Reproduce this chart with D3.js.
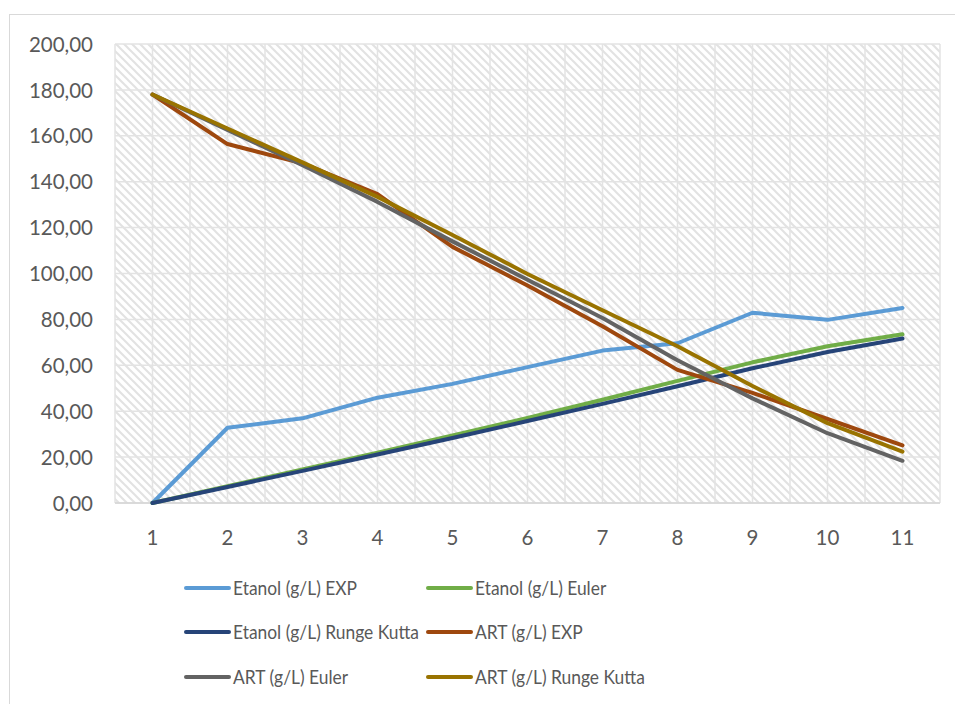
<!DOCTYPE html>
<html>
<head>
<meta charset="utf-8">
<script src="https://cdn.jsdelivr.net/npm/d3@7"></script>
<style>
  html, body { margin: 0; padding: 0; background: #fff; }
  svg { display: block; font-family: Lato, "Open Sans", sans-serif; }
</style>
</head>
<body>
<svg id="chart" width="955" height="704"></svg>
<script>
// Time points (x categories)
const categories = [1, 2, 3, 4, 5, 6, 7, 8, 9, 10, 11];

// Series values (g/L)
const etanolExp   = [0, 32.8, 36.9, 45.9, 51.9, 59.2, 66.4, 69.6, 82.9, 79.8, 85.0];
const etanolEuler = [0, 7.3, 14.6, 21.9, 29.4, 37.1, 45.0, 53.2, 61.3, 68.3, 73.5];
const etanolRK    = [0, 7.0, 14.0, 21.1, 28.3, 35.7, 43.2, 50.9, 58.7, 65.8, 71.7];
const artExp      = [178, 156.4, 148.0, 134.6, 111.6, 94.8, 77.0, 58.0, 48.0, 36.6, 25.1];
const artEuler    = [178, 162.6, 147.2, 131.2, 114.0, 97.3, 80.6, 62.2, 45.6, 30.4, 18.4];
const artRK       = [178, 163.2, 148.4, 133.4, 116.8, 99.8, 84.0, 68.3, 51.0, 34.8, 22.4];

const seriesNames  = ["Etanol (g/L) EXP", "Etanol (g/L) Euler", "Etanol (g/L) Runge Kutta",
                      "ART (g/L) EXP", "ART (g/L) Euler", "ART (g/L) Runge Kutta"];
const seriesValues = [etanolExp, etanolEuler, etanolRK, artExp, artEuler, artRK];
const seriesColors = ["#5B9BD5", "#70AD47", "#264478", "#9E480E", "#636363", "#997300"];

// Y axis ticks
const yTicks = [0, 20, 40, 60, 80, 100, 120, 140, 160, 180, 200];

const svg = d3.select("#chart");
const plot = { left: 115, right: 940, top: 44, bottom: 503 };

// Outer chart border
svg.append("rect")
  .attr("x", 9.5).attr("y", 14.5)
  .attr("width", 1000).attr("height", 1000)
  .attr("fill", "none").attr("stroke", "#d9d9d9").attr("stroke-width", 1);

// Diagonal hatch fill for the plot area
const defs = svg.append("defs");
const pat = defs.append("pattern")
  .attr("id", "hatch").attr("patternUnits", "userSpaceOnUse")
  .attr("width", 8).attr("height", 8);
pat.append("rect").attr("width", 8).attr("height", 8).attr("fill", "#ffffff");
pat.append("path")
  .attr("d", "M-1,-1 L9,9 M-3,5 L3,11 M5,-3 L11,3")
  .attr("stroke", "#e2e2e2").attr("stroke-width", 2);

const x = d3.scaleBand()
  .domain(categories)
  .range([plot.left, plot.right])
  .paddingInner(0).paddingOuter(0);
const xc = d => x(d) + x.bandwidth() / 2;

const y = d3.scaleLinear().domain([0, 200]).range([plot.bottom, plot.top]);

svg.append("rect")
  .attr("x", plot.left).attr("y", plot.top)
  .attr("width", plot.right - plot.left).attr("height", plot.bottom - plot.top)
  .attr("fill", "url(#hatch)");

// Vertical gridlines at band edges and centres
const vLines = [];
categories.forEach(c => { vLines.push(x(c)); vLines.push(xc(c)); });
vLines.push(plot.right);
svg.append("g").selectAll("line").data(vLines).join("line")
  .attr("x1", d => d).attr("x2", d => d)
  .attr("y1", plot.top).attr("y2", plot.bottom)
  .attr("stroke", "#e3e3e3").attr("stroke-width", 1.5);

// Horizontal gridlines
svg.append("g").selectAll("line").data(yTicks).join("line")
  .attr("x1", plot.left).attr("x2", plot.right)
  .attr("y1", d => y(d)).attr("y2", d => y(d))
  .attr("stroke", "#e3e3e3").attr("stroke-width", 1.5);

// Bottom axis line
svg.append("line")
  .attr("x1", plot.left).attr("x2", plot.right)
  .attr("y1", plot.bottom).attr("y2", plot.bottom)
  .attr("stroke", "#d4d4d4").attr("stroke-width", 1.5);

// Y axis labels
const fmt = v => v.toFixed(2).replace(".", ",");
const yAxis = d3.axisLeft(y).tickValues(yTicks).tickFormat(fmt).tickSize(0).tickPadding(0);
const gy = svg.append("g").attr("transform", `translate(93,0)`).call(yAxis);
gy.select(".domain").remove();
gy.selectAll("text")
  .attr("font-family", "Lato, sans-serif").attr("font-size", 20.5)
  .attr("fill", "#595959").attr("dy", "0.35em");

// X axis labels
const xAxis = d3.axisBottom(x).tickSize(0).tickPadding(0);
const gx = svg.append("g").attr("transform", `translate(0,${plot.bottom})`).call(xAxis);
gx.select(".domain").remove();
gx.selectAll("text")
  .attr("font-family", "Lato, sans-serif").attr("font-size", 20.5)
  .attr("fill", "#595959").attr("dy", null).attr("y", 42);

// Series lines
const line = d3.line().x((d, i) => xc(categories[i])).y(d => y(d));
svg.append("g").selectAll("path").data(seriesValues).join("path")
  .attr("d", d => line(d))
  .attr("fill", "none")
  .attr("stroke", (d, i) => seriesColors[i])
  .attr("stroke-width", 4)
  .attr("stroke-linecap", "round")
  .attr("stroke-linejoin", "round");

// Legend: 3 rows x 2 columns
const legendCols = [186, 428];
const legendRows = [588, 632, 677];
const lg = svg.append("g").selectAll("g").data(seriesNames).join("g")
  .attr("transform", (d, i) => `translate(${legendCols[i % 2]},${legendRows[Math.floor(i / 2)]})`);
lg.append("line")
  .attr("x1", 0).attr("x2", 43).attr("y1", 0).attr("y2", 0)
  .attr("stroke", (d, i) => seriesColors[i])
  .attr("stroke-width", 4).attr("stroke-linecap", "round");
// Legend labels use a slightly condensed setting of the face
lg.append("text")
  .attr("transform", "translate(47,0) scale(0.87,1)")
  .attr("dy", "0.35em")
  .attr("font-family", "Lato, sans-serif").attr("font-size", 20)
  .attr("fill", "#595959")
  .text(d => d);
</script>
</body>
</html>
